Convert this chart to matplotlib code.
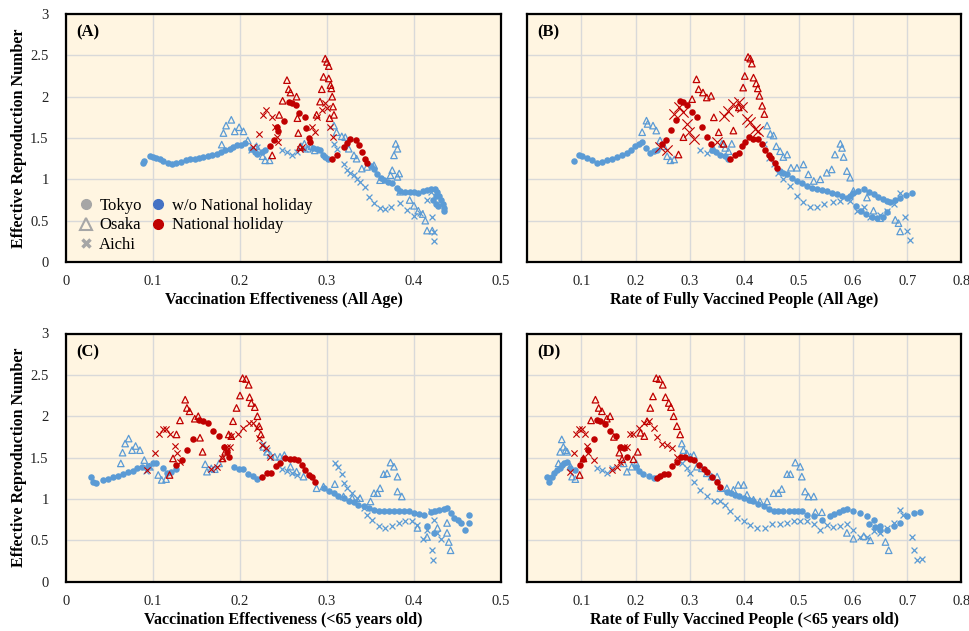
import matplotlib
matplotlib.use('Agg')
import matplotlib.pyplot as plt
from matplotlib.lines import Line2D

plt.rcParams['font.family'] = ['Liberation Serif', 'DejaVu Serif']

BLUE = '#5B9BD5'
RED = '#C00000'
BG = '#FFF5E1'
GRID = '#D9D9D9'

# ---------------- Panel A : Vaccination Effectiveness (All Age) ----------------
a_tokyo_wo = [(0.088,1.20),(0.090,1.22),(0.096,1.28),(0.100,1.27),(0.104,1.26),(0.108,1.24),(0.112,1.22),(0.117,1.20),(0.122,1.19),(0.127,1.20),(0.132,1.21),(0.138,1.23),(0.143,1.24),(0.148,1.25),(0.153,1.26),(0.158,1.27),(0.163,1.28),(0.168,1.29),(0.173,1.31),(0.178,1.33),(0.183,1.36),(0.188,1.37),(0.192,1.39),(0.197,1.41),(0.201,1.42),(0.206,1.44),(0.213,1.37),(0.217,1.33),(0.220,1.31),(0.225,1.33),(0.229,1.36),(0.284,1.38),(0.288,1.37),(0.292,1.36),(0.295,1.30),(0.298,1.27),(0.301,1.25),(0.350,1.16),(0.354,1.12),(0.358,1.06),(0.362,1.02),(0.366,0.99),(0.370,0.97),(0.375,0.95),(0.380,0.90),(0.384,0.86),(0.390,0.85),(0.395,0.85),(0.400,0.85),(0.405,0.84),(0.410,0.86),(0.415,0.87),(0.420,0.88),(0.424,0.88),(0.427,0.85),(0.429,0.80),(0.431,0.75),(0.433,0.70),(0.434,0.65),(0.434,0.62),(0.425,0.80),(0.422,0.75),(0.425,0.70),(0.428,0.68)]
a_tokyo_h = [(0.234,1.40),(0.239,1.47),(0.244,1.59),(0.242,1.63),(0.251,1.71),(0.256,1.94),(0.260,1.92),(0.264,1.90),(0.268,1.80),(0.275,1.75),(0.276,1.62),(0.279,1.50),(0.281,1.45),(0.306,1.24),(0.311,1.29),(0.319,1.39),(0.323,1.44),(0.326,1.49),(0.333,1.48),(0.337,1.41),(0.340,1.33),(0.344,1.25),(0.346,1.20)]
a_osaka_wo = [(0.179,1.42),(0.181,1.56),(0.184,1.65),(0.190,1.72),(0.194,1.58),(0.199,1.63),(0.204,1.58),(0.209,1.47),(0.219,1.40),(0.226,1.28),(0.229,1.23),(0.234,1.23),(0.270,1.40),(0.274,1.43),(0.278,1.37),(0.282,1.40),(0.286,1.35),(0.308,1.65),(0.311,1.57),(0.317,1.52),(0.321,1.51),(0.325,1.37),(0.331,1.29),(0.334,1.25),(0.340,1.13),(0.346,1.15),(0.354,1.17),(0.361,0.99),(0.373,1.05),(0.375,1.11),(0.377,1.29),(0.379,1.43),(0.381,1.37),(0.383,1.07),(0.381,1.03),(0.384,0.85),(0.395,0.75),(0.400,0.68),(0.405,0.62),(0.410,0.58),(0.413,0.50),(0.415,0.38),(0.421,0.38)]
a_osaka_h = [(0.249,1.95),(0.254,2.20),(0.256,2.09),(0.258,2.05),(0.265,2.00),(0.245,1.78),(0.267,1.56),(0.266,1.74),(0.269,1.39),(0.298,2.46),(0.300,2.42),(0.302,2.37),(0.296,2.24),(0.302,2.22),(0.304,2.14),(0.305,2.10),(0.294,2.09),(0.306,2.00),(0.292,1.94),(0.307,1.88),(0.308,1.78),(0.288,1.78),(0.303,1.74),(0.237,1.29)]
a_aichi_wo = [(0.213,1.35),(0.219,1.39),(0.248,1.35),(0.254,1.33),(0.260,1.29),(0.265,1.33),(0.275,1.37),(0.308,1.43),(0.311,1.37),(0.319,1.19),(0.323,1.11),(0.327,1.08),(0.331,1.05),(0.335,1.01),(0.338,0.97),(0.344,0.91),(0.348,0.79),(0.354,0.71),(0.361,0.65),(0.367,0.64),(0.373,0.67),(0.384,0.71),(0.392,0.63),(0.400,0.56),(0.407,0.59),(0.415,0.75),(0.419,0.85),(0.421,0.54),(0.423,0.36),(0.423,0.26)]
a_aichi_h = [(0.215,1.39),(0.222,1.55),(0.227,1.78),(0.230,1.84),(0.237,1.76),(0.240,1.63),(0.242,1.51),(0.244,1.45),(0.269,1.37),(0.271,1.39),(0.283,1.63),(0.286,1.57),(0.288,1.76),(0.294,1.84),(0.298,1.92),(0.300,1.86),(0.304,1.63),(0.307,1.51)]

# ---------------- Panel B : Rate of Fully Vaccined People (All Age) ----------------
b_tokyo_wo = [(0.086,1.22),(0.095,1.30),(0.102,1.28),(0.110,1.26),(0.120,1.23),(0.129,1.20),(0.138,1.21),(0.147,1.23),(0.156,1.25),(0.166,1.27),(0.175,1.29),(0.184,1.32),(0.192,1.36),(0.199,1.40),(0.206,1.43),(0.212,1.45),(0.220,1.38),(0.227,1.32),(0.233,1.34),(0.239,1.36),(0.340,1.36),(0.348,1.33),(0.356,1.30),(0.365,1.28),(0.371,1.24),(0.466,1.10),(0.472,1.08),(0.479,1.06),(0.488,1.02),(0.497,0.98),(0.506,0.95),(0.515,0.92),(0.524,0.90),(0.534,0.88),(0.543,0.87),(0.552,0.86),(0.561,0.84),(0.571,0.82),(0.580,0.80),(0.589,0.78),(0.595,0.80),(0.601,0.84),(0.610,0.86),(0.620,0.88),(0.629,0.85),(0.638,0.82),(0.647,0.79),(0.656,0.76),(0.663,0.74),(0.669,0.72),(0.678,0.75),(0.687,0.78),(0.698,0.81),(0.709,0.84),(0.605,0.68),(0.615,0.62),(0.625,0.58),(0.635,0.55),(0.645,0.53),(0.655,0.55),(0.662,0.60)]
b_tokyo_h = [(0.248,1.43),(0.256,1.47),(0.265,1.60),(0.275,1.72),(0.281,1.95),(0.288,1.93),(0.294,1.90),(0.304,1.81),(0.313,1.76),(0.322,1.63),(0.331,1.51),(0.339,1.43),(0.374,1.24),(0.383,1.30),(0.390,1.32),(0.396,1.40),(0.402,1.45),(0.408,1.51),(0.417,1.49),(0.426,1.49),(0.433,1.43),(0.439,1.36),(0.445,1.30),(0.450,1.26),(0.456,1.20),(0.461,1.14)]
b_osaka_wo = [(0.212,1.57),(0.220,1.71),(0.222,1.67),(0.232,1.65),(0.238,1.59),(0.245,1.47),(0.252,1.40),(0.258,1.28),(0.264,1.23),(0.271,1.24),(0.344,1.36),(0.359,1.43),(0.365,1.38),(0.371,1.34),(0.377,1.43),(0.442,1.65),(0.448,1.55),(0.454,1.53),(0.459,1.40),(0.466,1.34),(0.472,1.27),(0.479,1.30),(0.486,1.14),(0.497,1.14),(0.509,1.18),(0.518,1.06),(0.528,0.98),(0.540,1.00),(0.552,1.08),(0.561,1.12),(0.567,1.30),(0.577,1.43),(0.580,1.38),(0.583,1.27),(0.589,1.10),(0.595,1.02),(0.601,0.86),(0.626,0.78),(0.638,0.62),(0.650,0.53),(0.678,0.51),(0.684,0.47),(0.687,0.37)]
b_osaka_h = [(0.279,1.30),(0.288,1.51),(0.304,1.97),(0.312,2.21),(0.316,2.09),(0.324,2.05),(0.331,1.99),(0.339,2.01),(0.344,1.75),(0.353,1.57),(0.362,1.43),(0.380,1.59),(0.390,1.87),(0.398,2.11),(0.401,2.25),(0.407,2.48),(0.411,2.46),(0.414,2.40),(0.417,2.23),(0.422,2.16),(0.425,2.10),(0.428,2.01),(0.433,1.89),(0.437,1.79)]
b_aichi_wo = [(0.319,1.36),(0.331,1.32),(0.436,1.43),(0.445,1.26),(0.454,1.18),(0.463,1.08),(0.472,1.00),(0.485,0.92),(0.497,0.80),(0.509,0.72),(0.521,0.66),(0.534,0.66),(0.546,0.70),(0.564,0.72),(0.577,0.74),(0.595,0.74),(0.607,0.62),(0.620,0.66),(0.632,0.55),(0.650,0.57),(0.663,0.62),(0.675,0.70),(0.687,0.84),(0.696,0.55),(0.699,0.37),(0.706,0.27)]
b_aichi_h = [(0.245,1.39),(0.258,1.36),(0.270,1.79),(0.279,1.87),(0.288,1.81),(0.294,1.67),(0.298,1.57),(0.307,1.49),(0.350,1.45),(0.362,1.77),(0.371,1.83),(0.380,1.91),(0.390,1.93),(0.396,1.87),(0.405,1.73),(0.411,1.69),(0.420,1.61),(0.426,1.59)]

# ---------------- Panel C : Vaccination Effectiveness (<65 years old) ----------------
c_tokyo_wo = [(0.029,1.27),(0.031,1.21),(0.035,1.19),(0.042,1.23),(0.048,1.24),(0.054,1.26),(0.060,1.28),(0.065,1.30),(0.071,1.32),(0.077,1.34),(0.082,1.37),(0.087,1.39),(0.094,1.40),(0.100,1.43),(0.104,1.44),(0.111,1.37),(0.116,1.31),(0.121,1.33),(0.126,1.36),(0.193,1.39),(0.199,1.36),(0.204,1.36),(0.209,1.30),(0.215,1.28),(0.220,1.24),(0.296,1.13),(0.302,1.10),(0.308,1.07),(0.313,1.04),(0.319,1.01),(0.325,0.98),(0.331,0.96),(0.336,0.93),(0.342,0.91),(0.348,0.89),(0.354,0.87),(0.360,0.86),(0.365,0.85),(0.371,0.85),(0.377,0.85),(0.383,0.85),(0.388,0.86),(0.394,0.85),(0.400,0.83),(0.406,0.82),(0.411,0.81),(0.419,0.84),(0.424,0.86),(0.429,0.87),(0.434,0.88),(0.438,0.89),(0.442,0.83),(0.446,0.77),(0.450,0.74),(0.454,0.71),(0.459,0.63),(0.463,0.71),(0.463,0.81),(0.423,0.59),(0.415,0.67)]
c_tokyo_h = [(0.127,1.41),(0.133,1.47),(0.139,1.59),(0.146,1.72),(0.153,1.96),(0.158,1.94),(0.163,1.92),(0.169,1.82),(0.176,1.76),(0.182,1.63),(0.185,1.57),(0.187,1.51),(0.225,1.27),(0.231,1.31),(0.236,1.31),(0.241,1.40),(0.246,1.44),(0.252,1.49),(0.258,1.48),(0.262,1.48),(0.267,1.47),(0.271,1.41),(0.275,1.35),(0.279,1.29),(0.283,1.27),(0.286,1.20)]
c_osaka_wo = [(0.063,1.43),(0.065,1.56),(0.068,1.67),(0.072,1.73),(0.076,1.59),(0.080,1.64),(0.085,1.59),(0.090,1.47),(0.096,1.39),(0.106,1.29),(0.110,1.23),(0.115,1.24),(0.160,1.42),(0.162,1.33),(0.167,1.37),(0.171,1.36),(0.176,1.43),(0.227,1.63),(0.231,1.57),(0.235,1.53),(0.240,1.51),(0.246,1.51),(0.251,1.53),(0.258,1.39),(0.265,1.33),(0.273,1.27),(0.288,1.13),(0.296,1.15),(0.309,1.18),(0.319,1.03),(0.329,1.01),(0.338,1.01),(0.350,0.97),(0.354,1.07),(0.358,1.07),(0.361,1.13),(0.365,1.30),(0.369,1.31),(0.373,1.44),(0.377,1.39),(0.381,1.27),(0.381,1.09),(0.386,1.03),(0.404,0.65),(0.415,0.54),(0.427,0.65),(0.438,0.71),(0.438,0.59),(0.440,0.48),(0.442,0.38)]
c_osaka_h = [(0.119,1.29),(0.123,1.49),(0.127,1.78),(0.131,1.95),(0.137,2.20),(0.139,2.10),(0.142,2.06),(0.148,1.97),(0.152,2.00),(0.154,1.74),(0.157,1.57),(0.180,1.49),(0.183,1.57),(0.187,1.78),(0.190,1.76),(0.192,1.94),(0.196,2.10),(0.200,2.25),(0.203,2.46),(0.207,2.45),(0.210,2.38),(0.211,2.23),(0.213,2.16),(0.217,2.11),(0.220,2.00),(0.222,1.88),(0.224,1.78)]
c_aichi_wo = [(0.092,1.34),(0.097,1.39),(0.227,1.67),(0.231,1.59),(0.248,1.36),(0.254,1.34),(0.260,1.31),(0.265,1.29),(0.309,1.44),(0.313,1.39),(0.317,1.30),(0.319,1.19),(0.323,1.13),(0.329,1.07),(0.334,1.01),(0.342,0.89),(0.346,0.81),(0.352,0.75),(0.360,0.67),(0.367,0.65),(0.375,0.67),(0.383,0.71),(0.390,0.73),(0.398,0.73),(0.404,0.69),(0.410,0.52),(0.415,0.63),(0.419,0.85),(0.423,0.75),(0.427,0.59),(0.431,0.52),(0.421,0.38),(0.422,0.26)]
c_aichi_h = [(0.093,1.35),(0.102,1.56),(0.107,1.78),(0.111,1.85),(0.115,1.84),(0.119,1.78),(0.125,1.64),(0.128,1.55),(0.131,1.45),(0.167,1.36),(0.173,1.39),(0.179,1.49),(0.185,1.63),(0.188,1.63),(0.190,1.76),(0.198,1.78),(0.204,1.86),(0.210,1.92),(0.215,1.92),(0.219,1.86),(0.222,1.74),(0.225,1.65),(0.230,1.61),(0.234,1.51)]

# ---------------- Panel D : Rate of Fully Vaccined People (<65 years old) ----------------
d_tokyo_wo = [(0.037,1.27),(0.040,1.21),(0.046,1.27),(0.050,1.31),(0.055,1.35),(0.060,1.38),(0.064,1.41),(0.069,1.43),(0.074,1.45),(0.080,1.37),(0.089,1.35),(0.201,1.39),(0.207,1.34),(0.213,1.30),(0.224,1.28),(0.233,1.25),(0.368,1.09),(0.375,1.07),(0.383,1.05),(0.391,1.03),(0.399,1.01),(0.408,0.99),(0.417,0.97),(0.426,0.94),(0.436,0.91),(0.445,0.88),(0.454,0.86),(0.463,0.85),(0.472,0.85),(0.482,0.85),(0.491,0.85),(0.499,0.86),(0.506,0.86),(0.515,0.81),(0.528,0.79),(0.543,0.75),(0.558,0.79),(0.566,0.82),(0.574,0.84),(0.582,0.87),(0.589,0.88),(0.601,0.85),(0.613,0.83),(0.626,0.79),(0.638,0.75),(0.650,0.67),(0.663,0.63),(0.675,0.67),(0.687,0.71),(0.699,0.79),(0.712,0.83),(0.724,0.84),(0.630,0.70),(0.640,0.66),(0.650,0.62)]
d_tokyo_h = [(0.097,1.41),(0.104,1.48),(0.113,1.59),(0.123,1.72),(0.129,1.95),(0.135,1.94),(0.144,1.91),(0.153,1.82),(0.163,1.76),(0.172,1.63),(0.178,1.61),(0.185,1.51),(0.239,1.25),(0.245,1.28),(0.252,1.30),(0.259,1.30),(0.267,1.40),(0.276,1.45),(0.283,1.51),(0.291,1.51),(0.301,1.48),(0.308,1.47),(0.316,1.41),(0.325,1.36),(0.332,1.32),(0.340,1.27),(0.350,1.21),(0.356,1.15)]
d_osaka_wo = [(0.058,1.43),(0.061,1.57),(0.064,1.72),(0.067,1.63),(0.071,1.59),(0.074,1.57),(0.080,1.39),(0.083,1.27),(0.089,1.24),(0.178,1.43),(0.184,1.33),(0.193,1.39),(0.201,1.43),(0.285,1.67),(0.288,1.59),(0.294,1.55),(0.301,1.51),(0.307,1.53),(0.313,1.39),(0.322,1.37),(0.331,1.31),(0.340,1.27),(0.350,1.27),(0.356,1.13),(0.368,1.13),(0.380,1.11),(0.389,1.17),(0.399,1.17),(0.405,1.05),(0.417,0.99),(0.429,0.97),(0.442,0.97),(0.454,1.07),(0.463,1.07),(0.469,1.12),(0.479,1.30),(0.485,1.30),(0.494,1.44),(0.503,1.39),(0.506,1.27),(0.512,1.09),(0.518,1.03),(0.528,1.03),(0.531,0.84),(0.543,0.84),(0.589,0.59),(0.601,0.52),(0.620,0.55),(0.632,0.50),(0.660,0.48),(0.666,0.38)]
d_osaka_h = [(0.097,1.29),(0.104,1.49),(0.118,1.95),(0.126,2.20),(0.132,2.10),(0.138,2.06),(0.147,1.97),(0.153,2.00),(0.160,1.75),(0.170,1.56),(0.175,1.48),(0.196,1.48),(0.204,1.57),(0.209,1.80),(0.216,1.76),(0.221,1.94),(0.227,2.10),(0.232,2.24),(0.238,2.46),(0.244,2.45),(0.250,2.38),(0.255,2.23),(0.261,2.16),(0.265,2.11),(0.270,2.00),(0.276,1.88),(0.282,1.78)]
d_aichi_wo = [(0.129,1.37),(0.138,1.35),(0.147,1.31),(0.156,1.37),(0.285,1.43),(0.294,1.37),(0.301,1.31),(0.307,1.20),(0.319,1.11),(0.331,1.03),(0.344,0.97),(0.356,0.97),(0.365,0.93),(0.374,0.85),(0.387,0.77),(0.399,0.73),(0.411,0.69),(0.423,0.65),(0.439,0.65),(0.451,0.70),(0.466,0.70),(0.479,0.71),(0.491,0.73),(0.503,0.73),(0.515,0.73),(0.528,0.70),(0.540,0.63),(0.552,0.69),(0.564,0.66),(0.577,0.67),(0.589,0.70),(0.601,0.63),(0.613,0.54),(0.626,0.54),(0.638,0.61),(0.650,0.59),(0.663,0.65),(0.675,0.71),(0.687,0.87),(0.693,0.81),(0.709,0.54),(0.712,0.38),(0.718,0.26),(0.727,0.27)]
d_aichi_h = [(0.080,1.33),(0.086,1.56),(0.091,1.79),(0.095,1.84),(0.101,1.84),(0.107,1.78),(0.110,1.64),(0.113,1.56),(0.123,1.47),(0.156,1.35),(0.166,1.39),(0.172,1.45),(0.178,1.63),(0.184,1.63),(0.189,1.78),(0.196,1.78),(0.206,1.86),(0.215,1.92),(0.224,1.94),(0.233,1.86),(0.239,1.75),(0.248,1.67),(0.258,1.65),(0.267,1.61),(0.276,1.51)]

x_labels = ['Vaccination Effectiveness (All Age)',
            'Rate of Fully Vaccined People (All Age)',
            'Vaccination Effectiveness (<65 years old)',
            'Rate of Fully Vaccined People (<65 years old)']
panel_tags = ['(A)', '(B)', '(C)', '(D)']
x_max = [0.5, 0.8, 0.5, 0.8]
x_step = [0.1, 0.1, 0.1, 0.1]
y_ticks = [0, 0.5, 1, 1.5, 2, 2.5, 3]
y_label = 'Effective Reproduction Number'

panels = [
    (a_tokyo_wo, a_tokyo_h, a_osaka_wo, a_osaka_h, a_aichi_wo, a_aichi_h),
    (b_tokyo_wo, b_tokyo_h, b_osaka_wo, b_osaka_h, b_aichi_wo, b_aichi_h),
    (c_tokyo_wo, c_tokyo_h, c_osaka_wo, c_osaka_h, c_aichi_wo, c_aichi_h),
    (d_tokyo_wo, d_tokyo_h, d_osaka_wo, d_osaka_h, d_aichi_wo, d_aichi_h),
]

W, H = 970, 631
fig = plt.figure(figsize=(W/100, H/100), dpi=100)
boxes = [(66, 14, 501, 262), (527, 14, 961.5, 262),
         (66, 333.5, 501, 581.7), (527, 333.5, 961.5, 581.7)]

def xy(pts):
    return [p[0] for p in pts], [p[1] for p in pts]

for i, (box, data) in enumerate(zip(boxes, panels)):
    l, t, r, b = box
    ax = fig.add_axes([l/W, 1 - b/H, (r-l)/W, (b-t)/H])
    ax.set_facecolor(BG)
    tw, th, ow, oh, aw, ah = data
    big_x = 55 if i == 1 else 20
    # w/o holiday (blue)
    x, y = xy(tw); ax.scatter(x, y, s=22, color=BLUE, marker='o', linewidths=0, zorder=3)
    x, y = xy(ow); ax.scatter(x, y, s=22, facecolors='none', edgecolors=BLUE, marker='^', linewidths=0.9, zorder=3)
    x, y = xy(aw); ax.scatter(x, y, s=18, color=BLUE, marker='x', linewidths=0.9, zorder=3)
    # national holiday (red)
    x, y = xy(th); ax.scatter(x, y, s=22, color=RED, marker='o', linewidths=0, zorder=4)
    x, y = xy(oh); ax.scatter(x, y, s=22, facecolors='none', edgecolors=RED, marker='^', linewidths=0.9, zorder=4)
    x, y = xy(ah); ax.scatter(x, y, s=big_x, color=RED, marker='x', linewidths=0.8, zorder=4)

    xm = x_max[i]
    nt = int(round(xm / x_step[i]))
    xt = [round(k * x_step[i], 1) for k in range(nt + 1)]
    ax.set_xlim(0, xm)
    ax.set_ylim(0, 3)
    ax.set_xticks(xt)
    ax.set_yticks(y_ticks)
    if i in (0, 2):
        ax.set_xticklabels(['0' if v == 0 else f'{v:g}' for v in xt])
        ax.set_yticklabels([f'{v:g}' for v in y_ticks])
        ax.set_ylabel(y_label, fontsize=11.5, fontweight='bold')
        ax.yaxis.set_label_coords(-0.089, 0.5)
    else:
        ax.set_xticklabels(['' if v == 0 else f'{v:g}' for v in xt])
        ax.set_yticklabels([])
    ax.tick_params(axis='x', length=0, labelsize=10.5, pad=9.5, colors='#222222')
    ax.tick_params(axis='y', length=0, labelsize=10.5, pad=12.5, colors='#222222')
    ax.grid(True, color=GRID, linewidth=1.0, zorder=0)
    ax.set_axisbelow(True)
    for s in ax.spines.values():
        s.set_color('black')
        s.set_linewidth(1.6)
    ax.set_xlabel(x_labels[i], fontsize=11.5, fontweight='bold', labelpad=3)
    ax.text(0.023, 0.925, panel_tags[i], transform=ax.transAxes, fontsize=12,
            fontweight='bold', ha='left', va='center', zorder=6)

    if i == 0:
        gray = '#A6A6A6'
        handles = [
            Line2D([], [], ls='', marker='o', color=gray, ms=7),
            Line2D([], [], ls='', marker='^', mfc='none', mec=gray, mew=1.5, ms=8),
            Line2D([], [], ls='', marker='x', color=gray, mew=2.5, ms=6),
            Line2D([], [], ls='', marker='o', color='#4472C4', ms=7),
            Line2D([], [], ls='', marker='o', color=RED, ms=7),
            Line2D([], [], ls='', marker='', color='none'),
        ]
        labels = ['Tokyo', 'Osaka', 'Aichi', 'w/o National holiday', 'National holiday', '']
        ax.legend(handles, labels, ncol=2, loc='lower left', bbox_to_anchor=(0.0, -0.01),
                  frameon=False, fontsize=12, handlelength=1.0, handletextpad=0.3,
                  columnspacing=0.5, labelspacing=0.2, borderaxespad=0.3)

fig.savefig('out.png', dpi=100)
